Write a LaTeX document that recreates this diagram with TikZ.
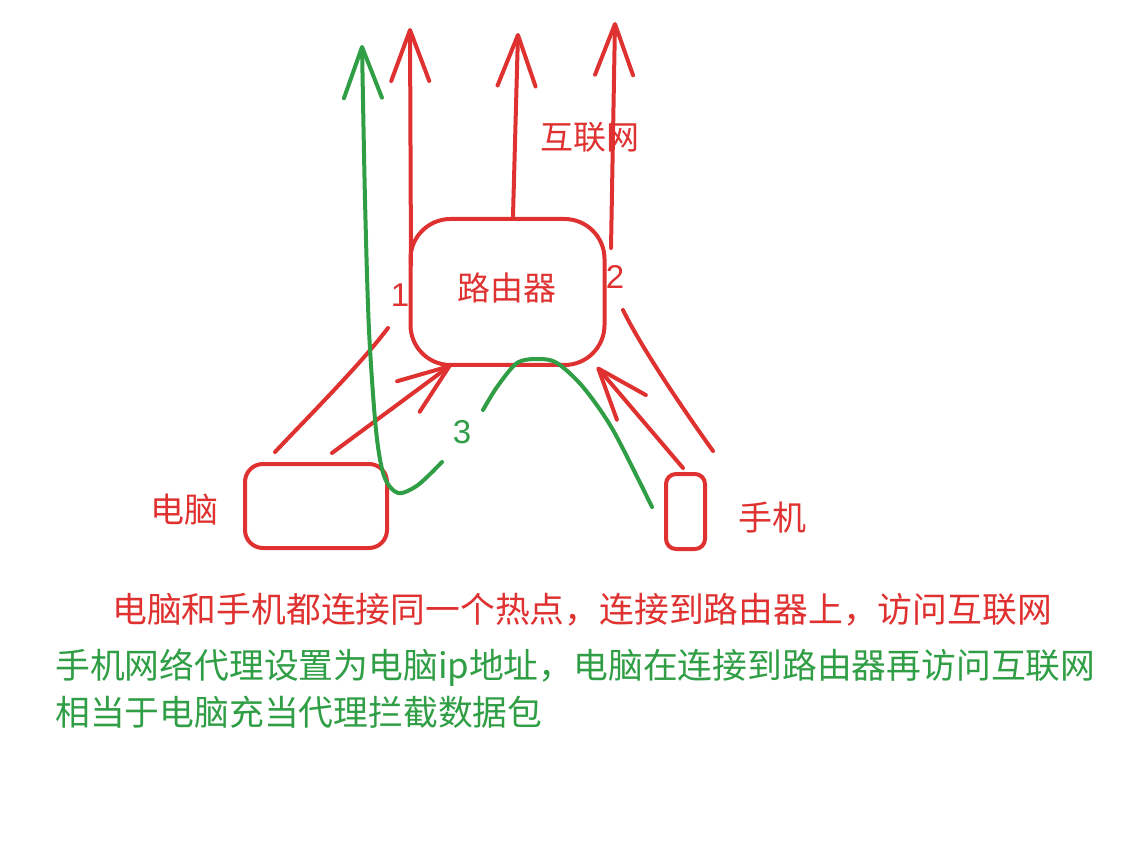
\documentclass[tikz,border=0pt]{standalone}
\usepackage{fontspec}
\setmainfont{Liberation Sans}
\newfontfamily\cjk{Noto Sans CJK SC}
\usetikzlibrary{arrows.meta}
\definecolor{exred}{HTML}{E03131}
\definecolor{exgreen}{HTML}{2F9E44}
\tikzset{
  redline/.style={draw=exred, line width=4pt, line cap=round, line join=round},
  greenline/.style={draw=exgreen, line width=4pt, line cap=round, line join=round},
  barb/.style={-{Straight Barb[length=51pt 0 0, width=38pt 0 0, round]}},
  box/.style={draw=exred, line width=4pt, rectangle, inner sep=0pt},
  cjklbl/.style={font=\cjk\fontsize{33}{40}\selectfont, inner sep=0pt},
  bottomtxt/.style={font=\cjk\fontsize{34.8}{42}\selectfont, inner sep=0pt, anchor=west},
  numlbl/.style={font=\fontsize{33}{38}\selectfont, inner sep=0pt},
}
\begin{document}
\begin{tikzpicture}[x=1pt,y=-1pt]
\useasboundingbox (0,0) rectangle (1127,858);
\fill[white] (0,0) rectangle (1127,858);

% boxes
\node[box, rounded corners=40pt, minimum width=194pt, minimum height=146pt] (router) at (507.5,292) {};
\node[box, rounded corners=18pt, minimum width=142pt, minimum height=84pt] (pc) at (316,506) {};
\node[box, rounded corners=10pt, minimum width=39pt, minimum height=75pt] (phone) at (685.5,511.5) {};

% labels
\node[cjklbl, text=exred] (routerlbl) at (507,288) {路由器};
\node[cjklbl, text=exred] (netlbl) at (590,137) {互联网};
\node[cjklbl, font=\cjk\fontsize{34}{40}\selectfont, text=exred] (pclbl) at (184,510) {电脑};
\node[cjklbl, font=\cjk\fontsize{34}{40}\selectfont, text=exred] (phonelbl) at (772,518) {手机};
\node[numlbl, text=exred] (n1) at (400,295) {1};
\node[numlbl, text=exred] (n2) at (615,277) {2};
\node[numlbl, text=exgreen] (n3) at (462,432) {3};

% coordinates
\coordinate (rA0) at (411,265);
\coordinate (rA1) at (410,28);
\coordinate (rB0) at (513,216);
\coordinate (rB1) at (518,33);
\coordinate (rC0) at (611,248);
\coordinate (rC1) at (615,22);
\coordinate (pcL0) at (275,452);
\coordinate (pcL1) at (388,328);
\coordinate (pcA0) at (332,453);
\coordinate (pcA1) at (451,365);
\coordinate (phA0) at (683,468);
\coordinate (phA1) at (597,367);
\coordinate (phL0) at (623,310);
\coordinate (phL1) at (713,451);

\coordinate (g1) at (442,462);
\coordinate (g2) at (418,485);
\coordinate (g3) at (398,493);
\coordinate (g4) at (384,476);
\coordinate (g5) at (376,430);
\coordinate (g6) at (369,330);
\coordinate (g7) at (365,200);
\coordinate (g8) at (362,45);

\coordinate (h1) at (652,507);
\coordinate (h2) at (613,430);
\coordinate (h3) at (583,387);
\coordinate (h4) at (557,363);
\coordinate (h5) at (538,359);
\coordinate (h6) at (517,363);
\coordinate (h7) at (497,387);
\coordinate (h8) at (483,410);

% red arrows to internet
\draw[redline, barb] (rA0) -- (rA1);
\draw[redline, barb] (rB0) -- (rB1);
\draw[redline, barb] (rC0) -- (rC1);

% pc to router
\draw[redline] (pcL0) .. controls (310,415) and (360,365) .. (pcL1);
\draw[redline, barb] (pcA0) -- (pcA1);

% phone to router
\draw[redline, barb] (phA0) -- (phA1);
\draw[redline] (phL0) .. controls (640,345) and (680,405) .. (phL1);

% green paths
\draw[greenline, barb] plot[smooth] coordinates {(g1) (g2) (g3) (g4) (g5) (g6) (g7) (g8)};
\draw[greenline] plot[smooth] coordinates {(h1) (h2) (h3) (h4) (h5) (h6) (h7) (h8)};

% bottom text
\node[bottomtxt, text=exred] (t1) at (112,610) {电脑和手机都连接同一个热点，连接到路由器上，访问互联网};
\node[bottomtxt, text=exgreen] (t2) at (55,668) {手机网络代理设置为电脑ip地址，电脑在连接到路由器再访问互联网};
\node[bottomtxt, text=exgreen] (t3) at (55,712) {相当于电脑充当代理拦截数据包};
\end{tikzpicture}
\end{document}
